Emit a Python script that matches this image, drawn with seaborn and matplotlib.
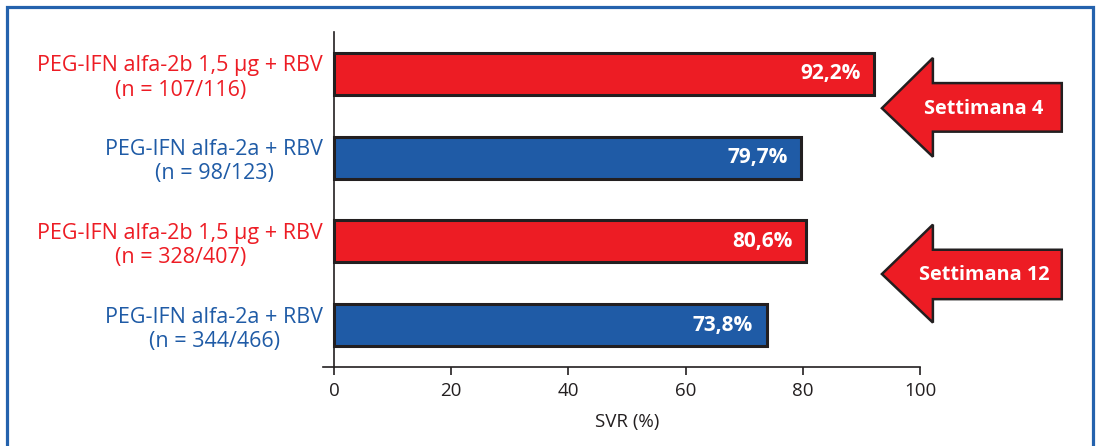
import matplotlib
matplotlib.use("Agg")
import matplotlib.pyplot as plt
from matplotlib.patches import Polygon, Rectangle
import seaborn as sns
import pandas as pd

# Treatment arms, top to bottom
arms = [
    "PEG-IFN alfa-2b 1,5 µg + RBV\n(n = 107/116)",
    "PEG-IFN alfa-2a + RBV\n(n = 98/123)",
    "PEG-IFN alfa-2b 1,5 µg + RBV\n(n = 328/407)",
    "PEG-IFN alfa-2a + RBV\n(n = 344/466)",
]
svr = [92.2, 79.7, 80.6, 73.8]
value_labels = ["92,2%", "79,7%", "80,6%", "73,8%"]
arm_colors = ["#ED1C24", "#1F5BA6", "#ED1C24", "#1F5BA6"]
x_ticks = [0, 20, 40, 60, 80, 100]
x_label = "SVR (%)"
week_labels = ["Settimana 4", "Settimana 12"]

sns.set_theme(style="white")
plt.rcParams["font.family"] = ["Open Sans", "DejaVu Sans"]

DARK = "#231F20"
W, H = 1096, 446
fig = plt.figure(figsize=(W / 100, H / 100), dpi=100)
ax = fig.add_axes([323 / W, 1 - 367 / H, (920 - 323) / W, (367 - 32) / H])

df = pd.DataFrame({"arm": arms, "svr": svr})
sns.barplot(data=df, x="svr", y="arm", hue="arm", palette=arm_colors,
            orient="h", width=0.5, edgecolor=DARK, linewidth=2.2,
            legend=False, ax=ax, saturation=1)

ax.set_xlim(-1.9, 100)
ax.set_ylim(3.5, -0.5)
ax.spines["left"].set_position(("data", 0))
for s in ["top", "right"]:
    ax.spines[s].set_visible(False)
for s in ["left", "bottom"]:
    ax.spines[s].set_color(DARK)
    ax.spines[s].set_linewidth(1.2)

ax.set_xticks(x_ticks)
ax.set_xticklabels([str(t) for t in x_ticks], fontsize=13.5, color=DARK)
ax.tick_params(axis="x", direction="out", length=6, width=1.2, color=DARK, pad=5, bottom=True)
ax.tick_params(axis="y", length=0, pad=8)
ax.set_yticks(range(len(arms)))
ax.set_yticklabels(arms, fontsize=15.5, multialignment="center", linespacing=1.2)
for lbl, c in zip(ax.get_yticklabels(), arm_colors):
    lbl.set_color(c)
ax.set_ylabel("")
ax.set_xlabel(x_label, fontsize=13.5, color=DARK)
ax.xaxis.set_label_coords((627 - 323) / (920 - 323), -0.137)

# Value labels inside bar ends
for i, (v, t) in enumerate(zip(svr, value_labels)):
    ax.text(v - 2.3, i, t, ha="right", va="center", color="white",
            fontsize=15, fontweight="bold")

# Week call-out arrows pointing at each pair of bars
def left_arrow(ax, tip_x, neck_x, end_x, y_tip, head_top, head_bot, body_top, body_bot, text):
    pts = [(tip_x, y_tip), (neck_x, head_top), (neck_x, body_top), (end_x, body_top),
           (end_x, body_bot), (neck_x, body_bot), (neck_x, head_bot)]
    ax.add_patch(Polygon(pts, closed=True, facecolor="#ED1C24", edgecolor=DARK,
                         linewidth=1.8, clip_on=False, joinstyle="miter"))
    ax.text((neck_x + end_x) / 2 - 2.3, y_tip + 0.01, text, ha="center", va="center",
            color="white", fontsize=14.3, fontweight="bold", clip_on=False)

left_arrow(ax, 93.5, 102.2, 124.2, 0.41, -0.19, 0.99, 0.11, 0.69, week_labels[0])
left_arrow(ax, 93.5, 102.2, 124.2, 2.39, 1.80, 2.97, 2.10, 2.69, week_labels[1])

# Blue frame around the panel (open at the bottom edge)
frame = Rectangle((6.5 / W, -0.05), (1092.5 - 6.5) / W, 1.05 - 6.5 / H,
                  transform=fig.transFigure, fill=False, edgecolor="#2462AD",
                  linewidth=2.3, clip_on=False)
fig.patches.append(frame)

fig.savefig("out.png", dpi=100, facecolor="white")
